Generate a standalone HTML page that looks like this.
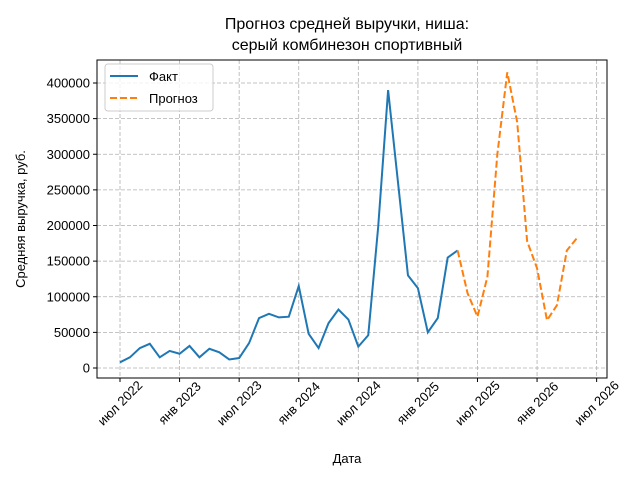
<!DOCTYPE html>
<html><head><meta charset="utf-8"><style>
body{margin:0;background:#fff}
svg text{font-family:"Liberation Sans","DejaVu Sans",sans-serif;fill:#000}
</style></head><body>
<svg width="640" height="480" viewBox="0 0 640 480">
<text x="347" y="29" text-anchor="middle" font-size="16">Прогноз средней выручки, ниша:</text>
<text x="347" y="50" text-anchor="middle" font-size="16">серый комбинезон спортивный</text>
<g id="grid"></g>
<g id="axes"></g>
<g id="series"></g>
<rect x="97" y="60" width="510" height="318" fill="none" stroke="#000" stroke-width="1"/>
<text x="347" y="463" text-anchor="middle" font-size="13">Дата</text>
<text transform="translate(25,219) rotate(-90)" text-anchor="middle" font-size="13">Средняя выручка, руб.</text>
<g>
<rect x="105" y="64" width="108" height="47" rx="3" fill="#fff" fill-opacity="0.8" stroke="#ccc"/>
<line x1="110" y1="76" x2="138" y2="76" stroke="#1f77b4" stroke-width="2"/>
<text x="149" y="81" font-size="13">Факт</text>
<line x1="110" y1="98" x2="138" y2="98" stroke="#ff7f0e" stroke-width="2" stroke-dasharray="7,3"/>
<text x="149" y="103" font-size="13">Прогноз</text>
</g>
</svg>
<script>
const factValues=[8000,15000,28000,34000,15000,24000,20000,31000,15000,27000,22000,12000,14000,35000,70000,76000,71000,72000,115000,48000,28000,63000,82000,68000,30000,46000,198000,390000,260000,130000,112000,50000,70000,155000,165000];
const forecastValues=[165000,105000,72000,128000,300000,415000,345000,178000,140000,67000,88000,165000,182000];
const forecastStart=34;
const yTicks=[0,50000,100000,150000,200000,250000,300000,350000,400000];
const xTickLabels=["июл 2022","янв 2023","июл 2023","янв 2024","июл 2024","янв 2025","июл 2025","янв 2026","июл 2026"];
const xTickMonths=[0,6,12,18,24,30,36,42,48];
const NS="http://www.w3.org/2000/svg";
const xs=m=>120+m*9.93;
const ys=v=>368-v*(285/400000);
function mk(t,a,p){const e=document.createElementNS(NS,t);for(const k in a)e.setAttribute(k,a[k]);p.appendChild(e);return e;}
const grid=document.getElementById('grid'),axes=document.getElementById('axes'),ser=document.getElementById('series');
yTicks.forEach(v=>{const y=ys(v);
 const g=mk('line',{x1:97,x2:607,y1:y,y2:y,stroke:'#b0b0b0','stroke-dasharray':'4,2','stroke-width':0.8},grid);
 
 
 mk('line',{x1:93,x2:97,y1:y,y2:y,stroke:'#000'},axes);
 const t=mk('text',{x:90,y:y+4.5,'text-anchor':'end','font-size':13},axes);t.textContent=v;
 
 
});
xTickMonths.forEach((m,i)=>{const x=xs(m);
 const g=mk('line',{x1:x,x2:x,y1:60,y2:378,stroke:'#b0b0b0','stroke-dasharray':'4,2','stroke-width':0.8},grid);
 
 
 mk('line',{x1:x,x2:x,y1:378,y2:382,stroke:'#000'},axes);
 const cy=403;
 const t=mk('text',{x:x,y:cy+4.5,'text-anchor':'middle','font-size':13,transform:`rotate(-45 ${x} ${cy})`},axes);t.textContent=xTickLabels[i];
 
 
});
const f=mk('polyline',{points:factValues.map((v,i)=>xs(i)+','+ys(v)).join(' '),fill:'none',stroke:'#1f77b4','stroke-width':2},ser);


const p=mk('polyline',{points:forecastValues.map((v,i)=>xs(forecastStart+i)+','+ys(v)).join(' '),fill:'none',stroke:'#ff7f0e','stroke-width':2,'stroke-dasharray':'7,3'},ser);


</script>
</body></html>
